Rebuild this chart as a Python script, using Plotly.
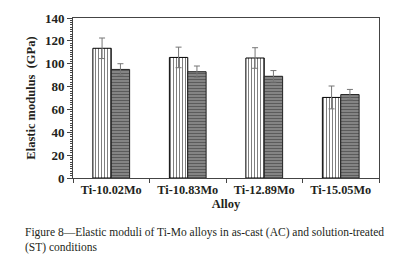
import plotly.graph_objects as go

alloys = ["Ti-10.02Mo", "Ti-10.83Mo", "Ti-12.89Mo", "Ti-15.05Mo"]
ac_values = [113.5, 105.5, 105.0, 70.5]
ac_errors = [9.0, 9.0, 9.0, 10.0]
st_values = [95.0, 93.0, 89.0, 73.0]
st_errors = [5.0, 5.0, 5.0, 4.5]
y_ticks = [0, 20, 40, 60, 80, 100, 120, 140]

font_family = "Liberation Serif"

fig = go.Figure()
fig.add_trace(go.Bar(
    x=alloys, y=ac_values, name="AC",
    marker=dict(color="white", line=dict(color="black", width=1),
                pattern=dict(shape="|", fgcolor="black", bgcolor="white", size=3, solidity=0.35)),
    error_y=dict(type="data", array=ac_errors, color="#777777", thickness=1, width=3),
))
fig.add_trace(go.Bar(
    x=alloys, y=st_values, name="ST",
    marker=dict(color="#6a6a6a", line=dict(color="#222222", width=1),
                pattern=dict(shape="-", fgcolor="#2a2a2a", bgcolor="#8c8c8c", size=3, solidity=0.45)),
    error_y=dict(type="data", array=st_errors, color="#777777", thickness=1, width=3),
))

fig.update_layout(
    width=404, height=257,
    margin=dict(l=73, r=25, t=11, b=79),
    paper_bgcolor="white", plot_bgcolor="white",
    barmode="group", bargap=0.52, bargroupgap=0,
    showlegend=False,
    font=dict(family=font_family, color="#231f20"),
)
fig.update_xaxes(
    showline=True, linecolor="#444444", linewidth=1, mirror=True,
    ticks="outside", tickson="boundaries", ticklen=4, tickcolor="#444444",
    tickfont=dict(family=font_family, size=12.3, color="#231f20", weight="bold"),
    title=dict(text="<b>Alloy</b>", font=dict(family=font_family, size=12.5, color="#231f20"), standoff=1),
    showgrid=False,
)
fig.update_yaxes(
    range=[0, 140], tickvals=y_ticks, ticktext=[f"<b>{v}</b>" for v in y_ticks],
    showline=True, linecolor="#444444", linewidth=1, mirror=True,
    ticks="outside", ticklen=5, tickcolor="#444444",
    minor=dict(dtick=2, ticks="outside", ticklen=2, tickcolor="#444444"),
    tickfont=dict(family=font_family, size=13, color="#231f20"),
    title=dict(text="<b>Elastic modulus  (GPa)</b>", font=dict(family=font_family, size=12.5, color="#231f20"), standoff=6),
    showgrid=False, zeroline=False,
)

fig.add_annotation(
    text="Figure 8—Elastic moduli of Ti-Mo alloys in as-cast (AC) and solution-treated<br>(ST) conditions",
    xref="paper", yref="paper", x=-0.163, y=-0.285, xanchor="left", yanchor="top",
    align="left", showarrow=False,
    font=dict(family=font_family, size=11.5, color="#231f20"),
)

fig.write_html("out.html", config={"displayModeBar": False},
               post_script="document.body.style.margin='0px';document.body.style.padding='0px';")
